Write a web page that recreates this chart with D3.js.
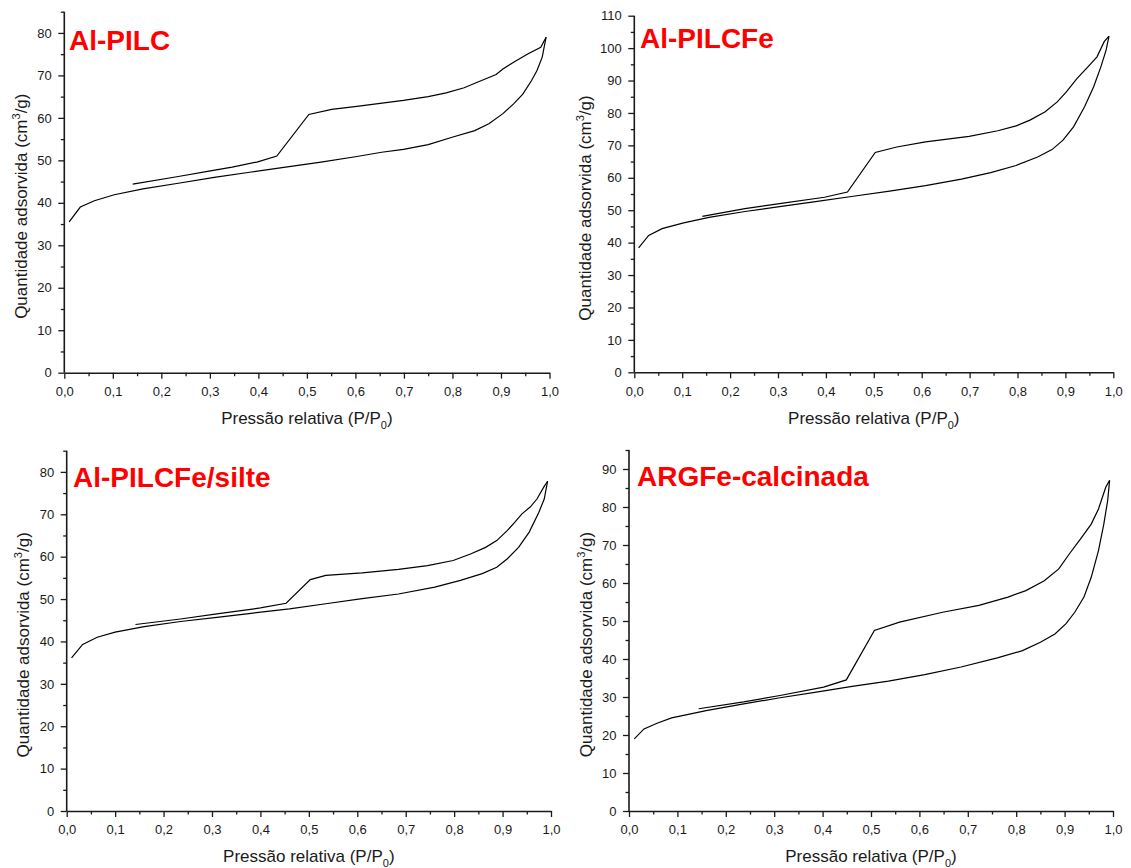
<!DOCTYPE html>
<html>
<head>
<meta charset="utf-8">
<script src="https://cdn.jsdelivr.net/npm/d3@7"></script>
<style>
  html, body { margin: 0; padding: 0; background: #fff; }
  svg { display: block; }
  text { font-family: "Liberation Sans", Arial, Helvetica, sans-serif; }
</style>
</head>
<body>
<svg id="chart" width="1131" height="868"></svg>
<script>
// N2 isotherms: relative pressure P/P0 vs adsorbed volume (cm3/g)
const sampleNames = ["Al-PILC", "Al-PILCFe", "Al-PILCFe/silte", "ARGFe-calcinada"];

// Al-PILC
const alPilcAdsP = [0.010, 0.033, 0.062, 0.103, 0.162, 0.235, 0.309, 0.382, 0.456, 0.529, 0.603, 0.654, 0.699, 0.750, 0.801, 0.846, 0.875, 0.904, 0.926, 0.945, 0.963, 0.974, 0.985, 0.993];
const alPilcAdsV = [35.5, 39.0, 40.5, 41.9, 43.3, 44.6, 46.0, 47.2, 48.4, 49.6, 50.9, 51.9, 52.6, 53.7, 55.5, 57.0, 58.6, 61.0, 63.3, 65.6, 68.8, 71.1, 74.3, 79.0];
const alPilcDesP = [0.993, 0.982, 0.956, 0.926, 0.904, 0.890, 0.860, 0.824, 0.787, 0.750, 0.699, 0.603, 0.551, 0.504, 0.438, 0.397, 0.346, 0.301, 0.235, 0.141];
const alPilcDesV = [79.0, 76.6, 75.1, 73.1, 71.5, 70.2, 68.8, 67.1, 65.9, 65.0, 64.1, 62.7, 62.0, 60.8, 51.0, 49.6, 48.4, 47.5, 46.2, 44.4];

// Al-PILCFe
const alPilcFeAdsP = [0.009, 0.030, 0.058, 0.103, 0.156, 0.231, 0.307, 0.382, 0.457, 0.533, 0.608, 0.683, 0.744, 0.797, 0.842, 0.872, 0.895, 0.917, 0.940, 0.959, 0.974, 0.985, 0.991];
const alPilcFeAdsV = [38.4, 42.2, 44.3, 46.1, 47.8, 49.6, 51.2, 52.7, 54.3, 55.9, 57.6, 59.6, 61.6, 63.8, 66.4, 68.7, 71.6, 75.7, 81.9, 88.1, 94.2, 99.4, 103.7];
const alPilcFeDesP = [0.991, 0.981, 0.966, 0.947, 0.924, 0.902, 0.883, 0.857, 0.826, 0.797, 0.759, 0.699, 0.608, 0.548, 0.503, 0.445, 0.397, 0.307, 0.231, 0.142];
const alPilcFeDesV = [103.7, 102.0, 97.3, 94.2, 90.6, 86.5, 83.4, 80.3, 77.8, 76.0, 74.5, 72.8, 71.1, 69.5, 67.8, 55.6, 54.0, 52.1, 50.5, 48.1];

// Al-PILCFe/silte
const alPilcFeSilteAdsP = [0.010, 0.033, 0.063, 0.100, 0.160, 0.235, 0.310, 0.385, 0.460, 0.535, 0.610, 0.685, 0.760, 0.813, 0.858, 0.888, 0.910, 0.933, 0.955, 0.975, 0.986, 0.993];
const alPilcFeSilteAdsV = [36.1, 39.3, 41.0, 42.2, 43.5, 44.7, 45.7, 46.7, 47.7, 48.9, 50.1, 51.2, 52.8, 54.4, 56.0, 57.5, 59.5, 62.2, 65.8, 70.5, 73.6, 77.8];
const alPilcFeSilteDesP = [0.993, 0.985, 0.971, 0.957, 0.940, 0.925, 0.910, 0.888, 0.865, 0.835, 0.798, 0.745, 0.685, 0.610, 0.535, 0.503, 0.453, 0.400, 0.310, 0.235, 0.142];
const alPilcFeSilteDesV = [77.8, 76.4, 73.6, 71.7, 70.1, 68.1, 66.2, 63.8, 62.2, 60.7, 59.1, 57.9, 57.0, 56.2, 55.6, 54.6, 49.0, 47.9, 46.5, 45.3, 44.0];

// ARGFe-calcinada
const argFeAdsP = [0.011, 0.031, 0.058, 0.088, 0.162, 0.237, 0.312, 0.387, 0.461, 0.536, 0.611, 0.686, 0.761, 0.813, 0.850, 0.880, 0.903, 0.921, 0.940, 0.955, 0.970, 0.981, 0.989, 0.993];
const argFeAdsV = [19.0, 21.6, 23.1, 24.5, 26.5, 28.2, 29.8, 31.3, 32.8, 34.2, 35.9, 37.9, 40.3, 42.2, 44.4, 46.6, 49.3, 52.3, 56.3, 61.5, 68.5, 75.5, 81.7, 87.0];
const argFeDesP = [0.993, 0.985, 0.970, 0.955, 0.933, 0.910, 0.888, 0.858, 0.820, 0.783, 0.723, 0.648, 0.559, 0.507, 0.449, 0.402, 0.312, 0.237, 0.144];
const argFeDesV = [87.0, 85.2, 79.5, 75.5, 71.6, 67.7, 63.7, 60.6, 58.0, 56.3, 54.1, 52.3, 49.7, 47.5, 34.5, 32.6, 30.4, 28.7, 26.9];

// Axis ranges and tick values
const xTicks = [0, 0.1, 0.2, 0.3, 0.4, 0.5, 0.6, 0.7, 0.8, 0.9, 1.0];
const yMax = [85, 110, 85, 95];
const yTicks = [
  [0, 10, 20, 30, 40, 50, 60, 70, 80],
  [0, 10, 20, 30, 40, 50, 60, 70, 80, 90, 100, 110],
  [0, 10, 20, 30, 40, 50, 60, 70, 80],
  [0, 10, 20, 30, 40, 50, 60, 70, 80, 90]
];

const series = [
  [alPilcAdsP, alPilcAdsV, alPilcDesP, alPilcDesV],
  [alPilcFeAdsP, alPilcFeAdsV, alPilcFeDesP, alPilcFeDesV],
  [alPilcFeSilteAdsP, alPilcFeSilteAdsV, alPilcFeSilteDesP, alPilcFeSilteDesV],
  [argFeAdsP, argFeAdsV, argFeDesP, argFeDesV]
];

// Plot frames: left/right x pixel, top/bottom y pixel, title positions
const frames = [
  { x0: 64.3, x1: 549.5, yTop: 11.7, y0: 372.7, yTitleX: 27, titleX: 69, titleY: 50, xTitleY: 424 },
  { x0: 634.3, x1: 1113.3, yTop: 15.7, y0: 372.3, yTitleX: 591, titleX: 640, titleY: 48, xTitleY: 423.5 },
  { x0: 66.7, x1: 551, yTop: 450.7, y0: 811, yTitleX: 29, titleX: 73, titleY: 487, xTitleY: 862 },
  { x0: 629, x1: 1113, yTop: 450, y0: 811, yTitleX: 592, titleX: 637, titleY: 486, xTitleY: 861.5 }
];

const svg = d3.select("#chart");
const ink = "#1a1a1a";
const fmtX = d => d3.format(".1f")(d).replace(".", ",");

frames.forEach((f, i) => {
  const x = d3.scaleLinear().domain([0, 1]).range([f.x0, f.x1]);
  const y = d3.scaleLinear().domain([0, yMax[i]]).range([f.y0, f.yTop]);
  const g = svg.append("g");

  const minorX = d3.range(0.05, 1.0, 0.1);
  const minorY = d3.range(5, yMax[i] + 0.1, 10);

  // minor ticks
  g.append("g").attr("transform", `translate(0,${f.y0})`)
    .call(d3.axisBottom(x).tickValues(minorX).tickSize(3.5).tickFormat(""))
    .call(a => a.select(".domain").remove());
  g.append("g").attr("transform", `translate(${f.x0},0)`)
    .call(d3.axisLeft(y).tickValues(minorY).tickSize(3.5).tickFormat(""))
    .call(a => a.select(".domain").remove());

  // major axes
  g.append("g").attr("transform", `translate(0,${f.y0})`)
    .call(d3.axisBottom(x).tickValues(xTicks).tickSize(6).tickSizeOuter(0).tickPadding(8).tickFormat(fmtX));
  const ya = g.append("g").attr("transform", `translate(${f.x0},0)`)
    .call(d3.axisLeft(y).tickValues(yTicks[i]).tickSize(6).tickSizeOuter(0).tickPadding(6.5).tickFormat(d3.format("d")));

  g.selectAll(".domain").attr("stroke", ink).attr("stroke-width", 1.6);
  g.selectAll(".tick line").attr("stroke", ink).attr("stroke-width", 1.3);
  g.selectAll(".tick text").attr("fill", ink)
    .style("font-family", '"Liberation Sans", Arial, sans-serif').style("font-size", "13px");
  // y axis line spans the full domain up to the top
  ya.select(".domain").attr("d", `M0,${f.y0}V${f.yTop}`);

  // isotherm branches
  const [ap, av, dp, dv] = series[i];
  const line = d3.line().x(d => x(d[0])).y(d => y(d[1]));
  g.append("path").datum(d3.zip(ap, av)).attr("d", line)
    .attr("fill", "none").attr("stroke", "#000").attr("stroke-width", 1.2);
  g.append("path").datum(d3.zip(dp, dv)).attr("d", line)
    .attr("fill", "none").attr("stroke", "#000").attr("stroke-width", 1.2);

  // sample name
  g.append("text").attr("x", f.titleX).attr("y", f.titleY)
    .attr("fill", "#ff0000").style("font-weight", "bold").style("font-size", "28px")
    .text(sampleNames[i]);

  // x title
  const xt = g.append("text").attr("x", (f.x0 + f.x1) / 2).attr("y", f.xTitleY)
    .attr("text-anchor", "middle").attr("fill", ink).style("font-size", "17px");
  xt.append("tspan").text("Pressão relativa (P/P");
  xt.append("tspan").text("0").style("font-size", "11px").attr("dy", 5);
  xt.append("tspan").text(")").attr("dy", -5);

  // y title
  const yc = (f.y0 + f.yTop) / 2 + 14;
  const yt = g.append("text").attr("transform", `translate(${f.yTitleX},${yc}) rotate(-90)`)
    .attr("text-anchor", "middle").attr("fill", ink).style("font-size", "17px");
  yt.append("tspan").text("Quantidade adsorvida (cm");
  yt.append("tspan").text("3").style("font-size", "11px").attr("dy", -7);
  yt.append("tspan").text("/g)").attr("dy", 7);
});
</script>
</body>
</html>
